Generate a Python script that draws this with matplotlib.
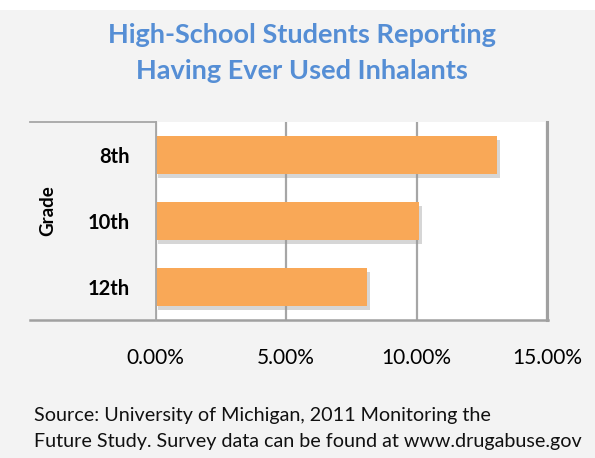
import numpy as np
import matplotlib.pyplot as plt
import matplotlib.patheffects as pe
from matplotlib.lines import Line2D
from matplotlib.patches import Rectangle

grades = ['8th', '10th', '12th']
pct_used = [13.1, 10.1, 8.1]
xticks = [0, 5, 10, 15]
xtick_labels = ['0.00%', '5.00%', '10.00%', '15.00%']

plt.rcParams['font.family'] = ['Lato', 'DejaVu Sans']

bg = '#f3f3f3'
f = plt.figure(figsize=(5.95, 4.58), dpi=100, facecolor=bg)
# white strip at the very top
f.patches.append(Rectangle((0, 1 - 10 / 458), 1, 10 / 458, transform=f.transFigure,
                           facecolor='white', edgecolor='none'))

ax = f.add_axes([155.7 / 595, 1 - 320 / 458, (547 - 155.7) / 595, 198 / 458])
ax.set_facecolor('white')

y = np.arange(len(grades))
bars = ax.barh(y, pct_used, height=0.58, color='#f9a857', zorder=3)
for b in bars:
    b.set_path_effects([pe.SimplePatchShadow(offset=(2, -3), shadow_rgbFace='#999999', alpha=0.4),
                        pe.Normal()])

ax.set_xlim(0, 15)
ax.set_ylim(len(grades) - 0.5, -0.5)
ax.set_yticks(y)
ax.set_yticklabels(grades, fontsize=14.5, fontweight='bold')
ax.set_xticks(xticks)
ax.set_xticklabels(xtick_labels, fontsize=15)
ax.tick_params(axis='y', length=0, pad=19)
ax.tick_params(axis='x', length=0, pad=20)
ax.grid(axis='x', color='#a6a6a6', linewidth=1.6, zorder=1)
ax.set_axisbelow(True)

for s in ['top', 'left', 'bottom']:
    ax.spines[s].set_visible(False)
ax.spines['right'].set_color('#a0a0a0')
ax.spines['right'].set_linewidth(2.2)

# table-like outline lines around the category area
f.lines.append(Line2D([30 / 595, 155.7 / 595], [1 - 122 / 458] * 2, transform=f.transFigure,
                      color='#a6a6a6', linewidth=1.3))
f.lines.append(Line2D([30 / 595, 548 / 595], [1 - 320 / 458] * 2, transform=f.transFigure,
                      color='#a0a0a0', linewidth=1.8))
f.lines.append(Line2D([155.7 / 595] * 2, [1 - 122 / 458, 1 - 320 / 458], transform=f.transFigure,
                      color='#a6a6a6', linewidth=1.3))

f.text(48 / 595, 1 - 211 / 458, 'Grade', rotation=90, ha='center', va='center',
       fontsize=13.5, fontweight='bold')

f.text(302 / 595, 1 - 35 / 458, 'High-School Students Reporting', ha='center', va='center',
       fontsize=19.5, fontweight='bold', color='#558ed5')
f.text(302 / 595, 1 - 71 / 458, 'Having Ever Used Inhalants', ha='center', va='center',
       fontsize=19.5, fontweight='bold', color='#558ed5')

f.text(34 / 595, 1 - 415 / 458, 'Source: University of Michigan, 2011 Monitoring the',
       ha='left', va='center', fontsize=14.2, color='#111111')
f.text(34 / 595, 1 - 441 / 458, 'Future Study. Survey data can be found at www.drugabuse.gov',
       ha='left', va='center', fontsize=14.2, color='#111111')

f.savefig('out.png', dpi=100, facecolor=bg)
